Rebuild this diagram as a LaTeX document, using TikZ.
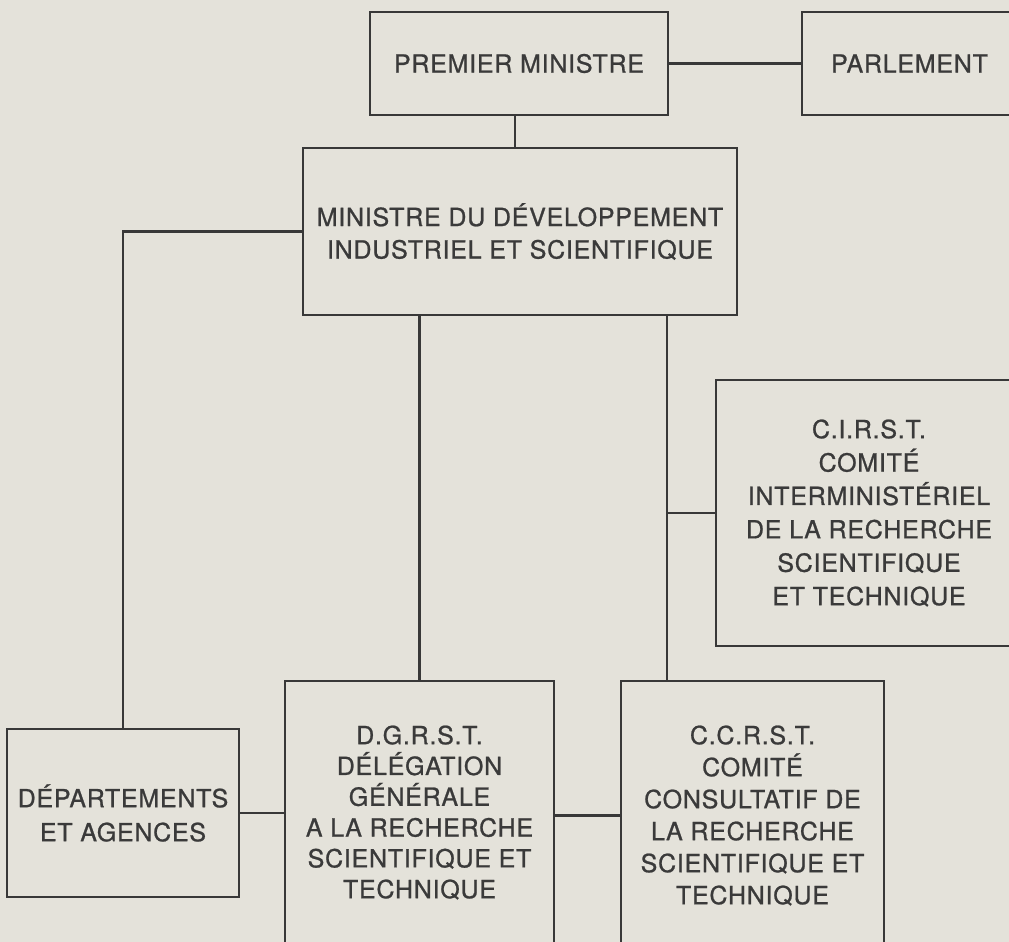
\documentclass[tikz,border=0pt]{standalone}
\usepackage{fontspec}
\setmainfont{TeX Gyre Heros}[LetterSpace=3,FakeBold=0.9]
\definecolor{paper}{HTML}{E4E2DA}
\definecolor{ink}{HTML}{383838}
\definecolor{txt}{HTML}{3A3A3A}
\begin{document}
\begin{tikzpicture}[x=1pt,y=-1pt,
  orgbox/.style={draw=ink, line width=2.2pt, inner sep=0pt, text=txt, align=center,
    font=\fontsize{25}{32.5}\selectfont},
  conn/.style={draw=ink, line width=2.2pt}]
\useasboundingbox (0,0) rectangle (1009,942);
\clip (0,0) rectangle (1009,942);
\fill[paper] (0,0) rectangle (1009,942);

\node[orgbox, minimum width=298pt, minimum height=103pt] (pm) at (519,63.5) {PREMIER MINISTRE};
\node[orgbox, minimum width=215pt, minimum height=103pt] (parl) at (909.5,63.5) {PARLEMENT};
\node[orgbox, minimum width=434pt, minimum height=167pt] (min) at (520,231.5)
  {MINISTRE DU DÉVELOPPEMENT\\INDUSTRIEL ET SCIENTIFIQUE};
\node[orgbox, minimum width=306pt, minimum height=266pt,
  font=\fontsize{25}{33.4}\selectfont] (cirst) at (869,513)
  {C.I.R.S.T.\\COMITÉ\\INTERMINISTÉRIEL\\DE LA RECHERCHE\\SCIENTIFIQUE\\ET TECHNIQUE};
\node[orgbox, minimum width=232pt, minimum height=168pt,
  font=\fontsize{25}{34}\selectfont] (dep) at (123,813)
  {DÉPARTEMENTS\\ET AGENCES};
\node[orgbox, minimum width=269pt, minimum height=263pt,
  font=\fontsize{25}{30.8}\selectfont] (dgrst) at (419.5,812.5)
  {D.G.R.S.T.\\DÉLÉGATION\\GÉNÉRALE\\A LA RECHERCHE\\SCIENTIFIQUE ET\\TECHNIQUE};
\node[orgbox, minimum width=263pt, minimum height=269pt,
  font=\fontsize{25}{32}\selectfont] (ccrst) at (752.5,815.5)
  {C.C.R.S.T.\\COMITÉ\\CONSULTATIF DE\\LA RECHERCHE\\SCIENTIFIQUE ET\\TECHNIQUE};

\coordinate (vx) at (515,0);
\coordinate (j) at (667,0);

\draw[conn] (pm.east) -- (parl.west);
\draw[conn] (pm.south -| vx) -- (min.north -| vx);
\draw[conn] (min.west) -| (dep.north);
\draw[conn] (min.south -| dgrst.north) -- (dgrst.north);
\draw[conn] (min.south -| j) -- (ccrst.north -| j);
\draw[conn] (cirst.west) -- (cirst.west -| j);
\draw[conn] (dep.east) -- (dep.east -| dgrst.west);
\draw[conn] (dgrst.east |- ccrst.west) -- (ccrst.west);
\end{tikzpicture}
\end{document}
